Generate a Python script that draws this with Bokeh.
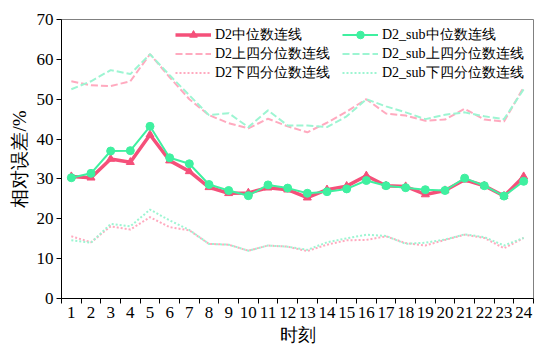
from bokeh.plotting import figure
from bokeh.models import FixedTicker, Legend, LegendItem, Range1d
from bokeh.embed import file_html
from bokeh.resources import INLINE

hours = list(range(1, 25))
tick_labels = [str(h) for h in hours]

d2_median = [30.6, 30.3, 35.0, 34.2, 41.1, 34.6, 31.9, 27.9, 26.4, 26.5, 27.8, 27.3,
             25.3, 27.3, 28.2, 30.8, 28.3, 28.1, 26.1, 27.1, 29.8, 28.3, 25.7, 30.6]
sub_median = [30.3, 31.4, 37.0, 37.1, 43.2, 35.3, 33.8, 28.6, 27.1, 25.8, 28.5, 27.7,
              26.4, 26.8, 27.5, 29.6, 28.3, 27.8, 27.3, 27.1, 30.2, 28.3, 25.7, 29.4]
d2_upper = [54.5, 53.5, 53.3, 54.5, 61.3, 55.5, 50.0, 46.0, 44.0, 42.7, 45.1, 43.2,
            41.7, 44.1, 46.9, 50.0, 46.4, 45.9, 44.6, 44.9, 47.6, 44.9, 44.4, 53.0]
sub_upper = [52.5, 54.5, 57.3, 56.3, 61.3, 56.0, 51.0, 46.0, 46.5, 43.0, 47.2, 43.4,
             43.4, 43.0, 45.7, 50.0, 48.2, 46.7, 45.0, 46.1, 46.7, 45.7, 45.0, 52.5]
d2_lower = [15.6, 14.1, 18.1, 17.3, 20.4, 17.9, 17.1, 13.7, 13.5, 12.0, 13.3, 13.0,
            11.9, 13.5, 14.6, 14.7, 15.6, 13.9, 13.3, 14.7, 16.0, 15.2, 12.6, 15.2]
sub_lower = [14.6, 14.0, 18.7, 18.1, 22.3, 19.6, 17.2, 13.7, 13.5, 12.0, 13.3, 13.0,
             12.2, 14.1, 15.1, 16.0, 15.7, 13.7, 14.0, 14.8, 16.1, 15.4, 13.3, 15.2]

RED = "#f5507a"
GREEN = "#3ff0a0"
PINK_L = "#ffaabf"
GREEN_L = "#9df5d2"
SERIF = "Liberation Serif"

p = figure(frame_width=472, frame_height=279, width=541, height=353,
           output_backend="svg", toolbar_location=None,
           x_range=Range1d(0.5, 24.5), y_range=Range1d(0, 70),
           min_border_left=61, min_border_right=8, min_border_top=19, min_border_bottom=55)
p.background_fill_color = "white"
p.border_fill_color = "white"
p.outline_line_color = "#808080"
p.outline_line_width = 1
p.xgrid.visible = False
p.ygrid.visible = False

r_d2u = p.line(hours, d2_upper, line_color=PINK_L, line_width=2, line_dash="7 3")
r_subu = p.line(hours, sub_upper, line_color=GREEN_L, line_width=2, line_dash="7 3")
r_d2l = p.line(hours, d2_lower, line_color=PINK_L, line_width=2, line_dash="2 2")
r_subl = p.line(hours, sub_lower, line_color=GREEN_L, line_width=2, line_dash="2 2")

r_d2m = p.line(hours, d2_median, line_color=RED, line_width=3.5)
r_d2m_pts = p.scatter(hours, d2_median, marker="triangle", size=8, fill_color=RED, line_color=RED)
r_subm = p.line(hours, sub_median, line_color=GREEN, line_width=2)
r_subm_pts = p.scatter(hours, sub_median, marker="circle", size=8, fill_color=GREEN, line_color=GREEN)

xa = p.xaxis[0]
xa.ticker = FixedTicker(ticks=hours, minor_ticks=[h - 0.5 for h in hours] + [24.5])
xa.major_label_overrides = {h: l for h, l in zip(hours, tick_labels)}
xa.axis_label = "时刻"

ya = p.yaxis[0]
ya.ticker = FixedTicker(ticks=[0, 10, 20, 30, 40, 50, 60, 70])
ya.axis_label = "相对误差/%"

for ax in (xa, ya):
    ax.axis_line_color = "black"
    ax.axis_line_width = 1
    ax.major_tick_out = 5
    ax.major_tick_in = 0
    ax.major_label_text_font = SERIF
    ax.major_label_text_font_size = "17px"
    ax.major_label_text_color = "black"
    ax.major_label_standoff = 3
    ax.axis_label_text_font = SERIF
    ax.axis_label_text_font_style = "normal"
    ax.axis_label_text_color = "black"
    ax.axis_label_standoff = 4

xa.axis_label_text_font_size = "18px"
ya.axis_label_text_font_size = "19px"
xa.major_tick_line_color = None
xa.minor_tick_line_color = "black"
xa.minor_tick_out = 5
xa.minor_tick_in = 0
ya.major_tick_line_color = "black"
ya.minor_tick_line_color = None

def make_legend(items, loc):
    return Legend(items=items, location=loc, orientation="vertical",
                  border_line_color=None, background_fill_alpha=0,
                  padding=0, margin=0, spacing=0,
                  glyph_width=36, glyph_height=19, label_height=19,
                  label_standoff=4, label_text_font=SERIF,
                  label_text_font_size="14px", label_text_color="black")

lg1 = make_legend([
    LegendItem(label="D2中位数连线", renderers=[r_d2m, r_d2m_pts]),
    LegendItem(label="D2上四分位数连线", renderers=[r_d2u]),
    LegendItem(label="D2下四分位数连线", renderers=[r_d2l]),
], (114, 216))
lg2 = make_legend([
    LegendItem(label="D2_sub中位数连线", renderers=[r_subm, r_subm_pts]),
    LegendItem(label="D2_sub上四分位数连线", renderers=[r_subu]),
    LegendItem(label="D2_sub下四分位数连线", renderers=[r_subl]),
], (281, 216))
p.add_layout(lg1, "center")
p.add_layout(lg2, "center")

open("out.html", "w").write(file_html(p, INLINE))
